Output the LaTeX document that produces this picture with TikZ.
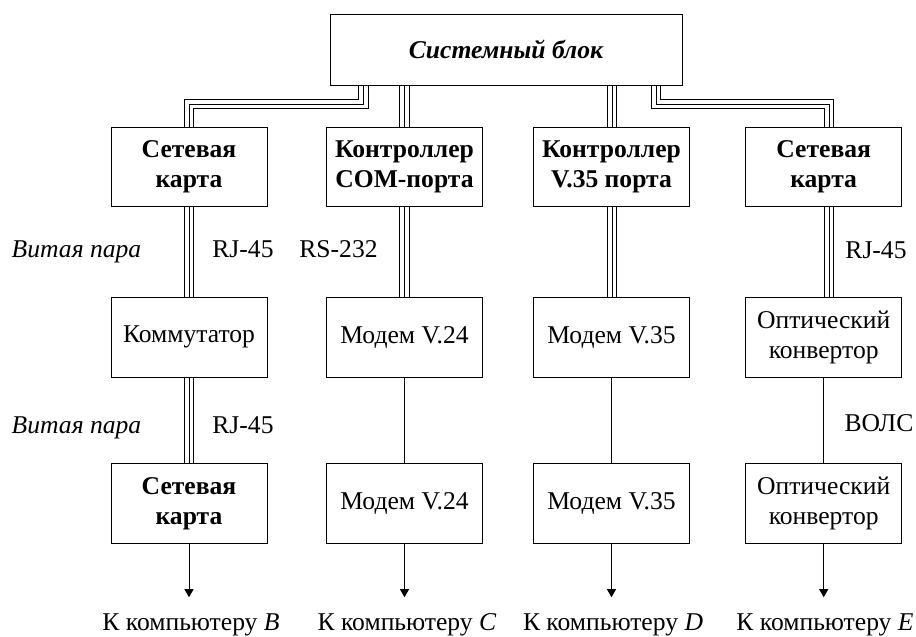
\documentclass[tikz,border=0pt]{standalone}
\usepackage{fontspec}
\setmainfont{Liberation Serif}
\usetikzlibrary{arrows.meta,calc}

\tikzset{
  txt/.style={font=\fontsize{25.6}{30}\selectfont},
  box/.style={txt, draw, line width=1pt, fill=white, minimum width=156pt,
    minimum height=80pt, inner sep=0pt, align=center},
  boldbox/.style={box, font=\fontsize{25.6}{30}\selectfont\bfseries},
  lbl/.style={txt, inner sep=0pt, anchor=base},
  dbl/.style={line width=1pt, double=white, double distance=8.4pt, line join=miter},
  core/.style={line width=1pt, line join=miter},
  wire/.style={line width=1pt},
  feed/.style={line width=1pt, -{Triangle[width=9pt,length=8pt]}}
}
% a three-conductor cable: two outer lines plus a centre line
\newcommand\cablepath[1]{\draw[dbl] #1; \draw[core] #1;}

\begin{document}
\begin{tikzpicture}[x=1pt, y=-1pt]
\useasboundingbox (0,0) rectangle (916,637);

% system unit
\node[box, minimum width=352pt, minimum height=71pt,
      font=\fontsize{25.6}{30}\selectfont\bfseries\itshape] (sys) at (506,49.5) {Системный блок};

% first row: adapters
\node[boldbox, minimum height=79pt] (n11) at (189,167)   {Сетевая\\карта};
\node[boldbox, minimum height=79pt] (n12) at (404.5,167) {Контроллер\\COM-порта};
\node[boldbox, minimum height=79pt] (n13) at (611.5,167) {Контроллер\\V.35 порта};
\node[boldbox, minimum height=79pt] (n14) at (823.7,167) {Сетевая\\карта};

% second row
\node[box] (n21) at (189,337)   {Коммутатор};
\node[box] (n22) at (404.5,337) {Модем V.24};
\node[box] (n23) at (611.5,337) {Модем V.35};
\node[box] (n24) at (823.7,337) {Оптический\\конвертор};

% third row
\node[boldbox] (n31) at (189,503.7)   {Сетевая\\карта};
\node[box]     (n32) at (404.5,503.7) {Модем V.24};
\node[box]     (n33) at (611.5,503.7) {Модем V.35};
\node[box]     (n34) at (823.7,503.7) {Оптический\\конвертор};

% cables from the system unit
\cablepath{([xshift=-142.5pt]sys.south) -- ++(0,18.7) -| (n11.north)}
\cablepath{(n12.north |- sys.south) -- (n12.north)}
\cablepath{([xshift=0.5pt]n13.north |- sys.south) -- ([xshift=0.5pt]n13.north)}
\cablepath{([xshift=150pt]sys.south) -- ++(0,18.7) -| ([xshift=5.3pt]n14.north)}

% cables between first and second rows
\cablepath{(n11.south) -- (n21.north)}
\cablepath{(n12.south) -- (n22.north)}
\cablepath{([xshift=0.5pt]n13.south) -- ([xshift=0.5pt]n23.north)}
\cablepath{([xshift=5.3pt]n14.south) -- ([xshift=5.3pt]n24.north)}

% links between second and third rows
\cablepath{(n21.south) -- (n31.north)}
\draw[wire] (n22.south) -- (n32.north);
\draw[wire] (n23.south) -- (n33.north);
\draw[wire] (n24.south) -- (n34.north);

% outputs to the remote computers
\coordinate (e1) at ($(n31.south)+(0,53)$);
\coordinate (e2) at ($(n32.south)+(0,53)$);
\coordinate (e3) at ($(n33.south)+(0,53)$);
\coordinate (e4) at ($(n34.south)+(0,53)$);
\draw[feed] (n31.south) -- (e1);
\draw[feed] (n32.south) -- (e2);
\draw[feed] (n33.south) -- (e3);
\draw[feed] (n34.south) -- (e4);

\node[lbl] (kB) at (191,630)   {К компьютеру \textit{B}};
\node[lbl] (kC) at (407,630)   {К компьютеру \textit{C}};
\node[lbl] (kD) at (613,630)   {К компьютеру \textit{D}};
\node[lbl] (kE) at (825,630)   {К компьютеру \textit{E}};

% line labels
\node[lbl, font=\fontsize{25.6}{30}\selectfont\itshape] (tp1) at (76.5,257) {Витая пара};
\node[lbl] (rj1) at (243,257) {RJ-45};
\node[lbl] (rs)  at (338.5,257) {RS-232};
\node[lbl] (rj4) at (876,258) {RJ-45};
\node[lbl, font=\fontsize{25.6}{30}\selectfont\itshape] (tp2) at (76.5,433) {Витая пара};
\node[lbl] (rj2) at (243,433) {RJ-45};
\node[lbl] (vols) at (879,431) {ВОЛС};
\end{tikzpicture}
\end{document}
